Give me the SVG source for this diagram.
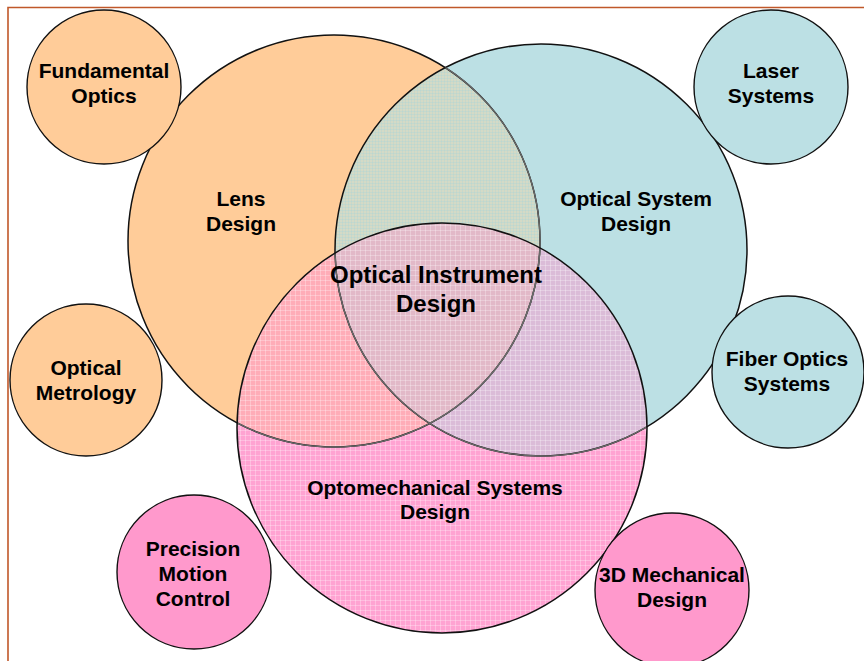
<svg xmlns="http://www.w3.org/2000/svg" width="864" height="661" viewBox="0 0 864 661">
<style>
  .lbl { font-family: "Liberation Sans", Arial, sans-serif; font-weight: bold; font-size: 21px; fill: #000; text-anchor: middle; }
  .big { font-size: 24px; }
  .edge { fill: none; stroke: #111; stroke-width: 1.5; }
  .under { fill: none; stroke: #6a6a6a; stroke-width: 1.3; }
  .small { stroke: #111; stroke-width: 1.4; }
  .o { fill: #ffcc99; }
  .b { fill: #bce0e4; }
  .p { fill: #ff99cc; }
</style>
<defs>
  <circle id="cOr" cx="334" cy="241" r="206"/>
  <circle id="cBl" cx="541" cy="250" r="206"/>
  <circle id="cPk" cx="442" cy="428" r="205"/>
  <clipPath id="clipO"><use href="#cOr"/></clipPath>
  <clipPath id="clipB"><use href="#cBl"/></clipPath>
  <clipPath id="clipP"><use href="#cPk"/></clipPath>
  <pattern id="grid" width="5" height="5" patternUnits="userSpaceOnUse">
    <path d="M0 0.5H5M0.5 0V5" stroke="#ffffff" stroke-opacity="0.28" stroke-width="1"/>
  </pattern>
  <pattern id="fine" width="3" height="3" patternUnits="userSpaceOnUse">
    <path d="M0 0.5H3M0.5 0V3" stroke="#9fd4dc" stroke-opacity="0.35" stroke-width="0.8"/>
  </pattern>
</defs>
<rect width="864" height="661" fill="#ffffff"/>
<g id="frame">
  <path d="M8 661V7.5H864" fill="none" stroke="#c0582a" stroke-width="1.6"/>
</g>
<g id="venn-fills">
  <use href="#cOr" class="o"/>
  <use href="#cBl" class="b"/>
  <g clip-path="url(#clipO)"><use href="#cBl" fill="#d4dac6"/><use href="#cBl" fill="url(#fine)"/></g>
  <use href="#cPk" fill="#ffa3d2"/>
  <g clip-path="url(#clipO)"><use href="#cPk" fill="#ffadb8"/></g>
  <g clip-path="url(#clipB)"><use href="#cPk" fill="#dbbcd8"/></g>
  <g clip-path="url(#clipO)"><g clip-path="url(#clipB)"><use href="#cPk" fill="#e2b9c8"/></g></g>
  <use href="#cPk" fill="url(#grid)"/>
</g>
<g id="connectors">
  <use href="#cOr" class="edge"/>
  <use href="#cBl" class="edge"/>
  <g clip-path="url(#clipB)"><use href="#cOr" class="under"/></g>
  <g clip-path="url(#clipP)"><use href="#cOr" class="under"/><use href="#cBl" class="under"/></g>
  <use href="#cPk" class="edge"/>
</g>
<g id="lens-design"><text class="lbl" x="241" y="206">Lens</text><text class="lbl" x="241" y="231">Design</text></g>
<g id="optical-system-design"><text class="lbl" x="636" y="206">Optical System</text><text class="lbl" x="636" y="231">Design</text></g>
<g id="optical-instrument-design"><text class="lbl big" x="436" y="283">Optical Instrument</text><text class="lbl big" x="436" y="312">Design</text></g>
<g id="optomechanical-design"><text class="lbl" x="435" y="495">Optomechanical Systems</text><text class="lbl" x="435" y="519">Design</text></g>
<g id="fundamental-optics"><circle class="small o" cx="104" cy="87" r="77"/><text class="lbl" x="104" y="78">Fundamental</text><text class="lbl" x="104" y="103">Optics</text></g>
<g id="optical-metrology"><circle class="small o" cx="86" cy="380" r="76"/><text class="lbl" x="86" y="375">Optical</text><text class="lbl" x="86" y="400">Metrology</text></g>
<g id="laser-systems"><circle class="small b" cx="771" cy="87" r="77"/><text class="lbl" x="771" y="78">Laser</text><text class="lbl" x="771" y="103">Systems</text></g>
<g id="fiber-optics-systems"><circle class="small b" cx="788" cy="372" r="76"/><text class="lbl" x="787" y="366">Fiber Optics</text><text class="lbl" x="787" y="391">Systems</text></g>
<g id="precision-motion-control"><circle class="small p" cx="194" cy="572" r="77"/><text class="lbl" x="193" y="556">Precision</text><text class="lbl" x="193" y="581">Motion</text><text class="lbl" x="193" y="606">Control</text></g>
<g id="mechanical-design-3d"><circle class="small p" cx="672" cy="590" r="77"/><text class="lbl" x="672" y="582">3D Mechanical</text><text class="lbl" x="672" y="607">Design</text></g>
</svg>
